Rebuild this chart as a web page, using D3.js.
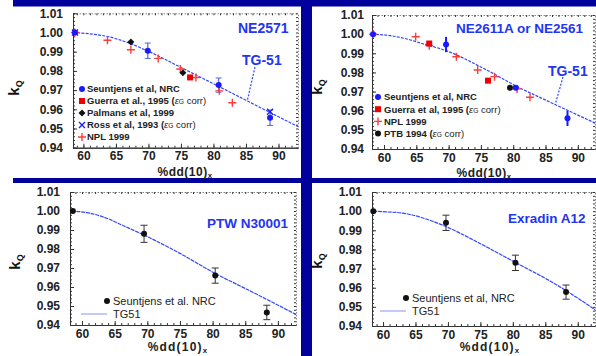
<!DOCTYPE html>
<html>
<head>
<meta charset="utf-8">
<script src="https://cdn.jsdelivr.net/npm/d3@7"></script>
<style>
  body { margin: 0; background: #fff; }
  svg { display: block; font-family: "Liberation Sans", Arial, sans-serif; }
</style>
</head>
<body>
<svg id="chart" width="596" height="356"></svg>
<script>
const xTicks = [60, 65, 70, 75, 80, 85, 90];
const yTicks = [0.94, 0.95, 0.96, 0.97, 0.98, 0.99, 1.00, 1.01];

// NE2571 ([%dd(10)x, kQ, error])
const ne2571Nrc = [[58.7, 1.000, 0], [69.9, 0.9905, 0.004], [80.8, 0.9726, 0.0037], [88.7, 0.9556, 0.004]];
const ne2571Guerra = [[76.4, 0.9766]];
const ne2571Palmans = [[67.3, 0.9951], [75.3, 0.979]];
const ne2571Ross = [[58.7, 1.000], [88.7, 0.9587]];
const ne2571Npl = [[58.7, 1.000], [63.7, 0.996], [67.3, 0.991], [71.5, 0.9865], [74.9, 0.981], [77.3, 0.9766], [80.9, 0.9696], [82.9, 0.9634]];
const ne2571Tg51 = [[58.4, 1.000], [61, 0.9993], [64, 0.9977], [67, 0.9945], [70, 0.9902], [75, 0.9818], [80, 0.9733], [85, 0.9647], [90, 0.9561], [93, 0.951]];

// NE2611A or NE2561
const ne2611Nrc = [[58.3, 1.000, 0], [69.6, 0.9946, 0.004], [80.4, 0.972, 0.0012], [88.4, 0.956, 0.004]];
const ne2611Guerra = [[67.0, 0.9951], [76.1, 0.9757]];
const ne2611Npl = [[58.3, 1.000], [64.9, 0.9986], [67.0, 0.994], [71.2, 0.9882], [74.5, 0.9813], [77.1, 0.9778], [80.6, 0.9714], [82.6, 0.967]];
const ne2611Ptb = [[79.5, 0.972]];
const ne2611Tg51 = [[58.1, 1.000], [61, 0.9992], [63.4, 0.9976], [66, 0.995], [69.5, 0.9915], [76.2, 0.9807], [80.6, 0.9726], [85.5, 0.9648], [92.7, 0.9535]];

// PTW N30001
const ptwNrc = [[58.6, 1.000, 0], [69.5, 0.988, 0.0045], [80.4, 0.966, 0.004], [88.3, 0.9466, 0.0038]];
const ptwTg51 = [[58.4, 1.000], [61, 0.999], [63.8, 0.9962], [66, 0.9928], [69.4, 0.9875], [75, 0.9777], [80.2, 0.9675], [86, 0.9575], [92.8, 0.9455]];

// Exradin A12
const a12Nrc = [[58.5, 1.000, 0], [69.7, 0.9939, 0.004], [80.4, 0.973, 0.004], [88.2, 0.9577, 0.0037]];
const a12Tg51 = [[58.5, 1.000], [60.5, 0.9996], [63, 0.999], [67, 0.9955], [70.7, 0.9904], [75, 0.983], [80.5, 0.973], [86, 0.963], [92.7, 0.9485]];

const navy = '#00009c';
const blue = '#1a1aff';
const titleBlue = '#2236f0';
const red = '#ee0000';
const pink = '#ff3b3b';

const svg = d3.select('#chart');

// background bands
svg.append('rect').attr('x', 13).attr('y', 0).attr('width', 583).attr('height', 6.5).attr('fill', navy);
svg.append('rect').attr('x', 301).attr('y', 0).attr('width', 11).attr('height', 356).attr('fill', navy);
svg.append('rect').attr('x', 13).attr('y', 178).attr('width', 583).attr('height', 5).attr('fill', navy);

function marker(g, type, cx, cy) {
  if (type === 'circleBlue' || type === 'circleBlack') {
    g.append('circle').attr('cx', cx).attr('cy', cy).attr('r', 3)
      .attr('fill', type === 'circleBlue' ? blue : '#111');
  } else if (type === 'square') {
    g.append('rect').attr('x', cx - 3).attr('y', cy - 3).attr('width', 6).attr('height', 6).attr('fill', red);
  } else if (type === 'diamond') {
    g.append('path').attr('d', `M${cx},${cy - 3.5}L${cx + 3.5},${cy}L${cx},${cy + 3.5}L${cx - 3.5},${cy}Z`).attr('fill', '#111');
  } else if (type === 'cross') {
    g.append('path').attr('d', `M${cx - 3},${cy - 3}L${cx + 3},${cy + 3}M${cx - 3},${cy + 3}L${cx + 3},${cy - 3}`)
      .attr('stroke', blue).attr('stroke-width', 1.3);
  } else if (type === 'plus') {
    g.append('path').attr('d', `M${cx - 4},${cy}L${cx + 4},${cy}M${cx},${cy - 4}L${cx},${cy + 4}`)
      .attr('stroke', pink).attr('stroke-width', 1.4);
  }
}

function drawPanel(p) {
  const x = d3.scaleLinear().domain(p.xDomain).range([p.left, p.right]);
  const y = d3.scaleLinear().domain([0.94, 1.01]).range([p.bottom, p.top]);
  const g = svg.append('g');
  const tf = 'bold 12px "Liberation Sans", Arial, sans-serif';

  // minor ticks
  const xMinor = d3.range(Math.ceil(p.xDomain[0]), p.xDomain[1], 1);
  const yMinor = d3.range(0.94, 1.0101, 0.002);
  [['axisBottom', p.bottom], ['axisTop', p.top]].forEach(([fn, pos]) => {
    const ax = g.append('g').attr('transform', `translate(0,${pos})`)
      .call(d3[fn](x).tickValues(xMinor).tickSize(-2).tickSizeOuter(0).tickFormat(''));
    ax.select('.domain').attr('stroke', fn === 'axisTop' ? '#888' : '#333')
      .attr('stroke-dasharray', fn === 'axisTop' ? '1.5,1.5' : null);
    ax.selectAll('.tick line').attr('stroke', '#333');
  });
  [['axisLeft', p.left], ['axisRight', p.right]].forEach(([fn, pos]) => {
    const ax = g.append('g').attr('transform', `translate(${pos},0)`)
      .call(d3[fn](y).tickValues(yMinor).tickSize(-2).tickSizeOuter(0).tickFormat(''));
    ax.select('.domain').attr('stroke', fn === 'axisRight' ? '#888' : '#333')
      .attr('stroke-dasharray', fn === 'axisRight' ? '1.5,1.5' : null);
    ax.selectAll('.tick line').attr('stroke', '#333');
  });

  // major ticks + labels
  const xa = g.append('g').attr('transform', `translate(0,${p.bottom})`)
    .call(d3.axisBottom(x).tickValues(xTicks).tickSize(-4).tickSizeOuter(0).tickPadding(p.xPad));
  const ya = g.append('g').attr('transform', `translate(${p.left},0)`)
    .call(d3.axisLeft(y).tickValues(yTicks).tickSize(-4).tickSizeOuter(0).tickPadding(p.yPad).tickFormat(d3.format('.2f')));
  [xa, ya].forEach(a => {
    a.select('.domain').attr('stroke', '#333');
    a.selectAll('.tick line').attr('stroke', '#333');
    a.selectAll('text').attr('fill', '#222').style('font', tf);
  });

  // axis titles
  const xl = g.append('text').attr('x', p.xLabel[0]).attr('y', p.xLabel[1]).attr('text-anchor', 'middle')
    .attr('fill', '#222').style('font', `bold ${p.xLabelSize}px "Liberation Sans", Arial, sans-serif`)
    .style('letter-spacing', p.xLabelSpacing + 'px');
  xl.append('tspan').text('%dd(10)');
  xl.append('tspan').attr('font-size', '65%').attr('dy', 2).text('x');

  const yl = g.append('text').attr('transform', `translate(${p.yLabel[0]},${p.yLabel[1]}) rotate(-90)`)
    .attr('text-anchor', 'middle').attr('fill', '#111').style('font', 'bold 15px "Liberation Sans", Arial, sans-serif');
  yl.append('tspan').text('k');
  yl.append('tspan').attr('font-size', '60%').attr('dy', 3).text('Q');

  // title
  g.append('text').attr('x', p.title[1]).attr('y', p.title[2]).attr('fill', titleBlue)
    .style('font', `bold ${p.title[3]}px "Liberation Sans", Arial, sans-serif`).text(p.title[0]);

  // TG-51 curve
  const line = d3.line().x(d => x(d[0])).y(d => y(d[1])).curve(d3.curveMonotoneX);
  g.append('path').datum(p.tg51).attr('d', line).attr('fill', 'none')
    .attr('stroke', '#3048ff').attr('stroke-width', 1.2).attr('stroke-dasharray', p.tgDash);

  // TG-51 callout
  if (p.note) {
    const n = p.note;
    const ex = x(n.at);
    const ey = y(d3.scaleLinear().domain(p.tg51.map(d => d[0])).range(p.tg51.map(d => d[1]))(n.at));
    g.append('line').attr('x1', n.from[0]).attr('y1', n.from[1]).attr('x2', ex).attr('y2', ey)
      .attr('stroke', '#3048ff').attr('stroke-width', 1.2).attr('stroke-dasharray', '2,1.5');
    g.append('text').attr('x', n.text[0]).attr('y', n.text[1]).attr('fill', titleBlue)
      .style('font', 'bold 14px "Liberation Sans", Arial, sans-serif').text('TG-51');
  }

  // error bars
  p.errors.forEach(d => {
    if (!d[2]) return;
    const cx = x(d[0]);
    g.append('line').attr('x1', cx).attr('x2', cx).attr('y1', y(d[1] + d[2])).attr('y2', y(d[1] - d[2]))
      .attr('stroke', p.errColor).attr('stroke-width', p.errWidth);
    if (p.errCap) {
      [d[1] + d[2], d[1] - d[2]].forEach(v => {
        g.append('line').attr('x1', cx - p.errCap).attr('x2', cx + p.errCap).attr('y1', y(v)).attr('y2', y(v))
          .attr('stroke', p.errColor).attr('stroke-width', 1);
      });
    }
  });

  // markers
  p.series.forEach(s => s.data.forEach(d => marker(g, s.type, x(d[0]), y(d[1]))));

  // legend
  p.legend.forEach((l, i) => {
    const ly = p.legendPos[1] + i * p.legendStep;
    if (l.type === 'line') {
      g.append('line').attr('x1', p.legendPos[0] - 26).attr('x2', p.legendPos[0]).attr('y1', ly).attr('y2', ly)
        .attr('stroke', '#9aa6ff').attr('stroke-width', 1.2);
    } else {
      marker(g, l.type, p.legendPos[0], ly);
    }
    const t = g.append('text').attr('x', p.legendPos[0] + p.legendGap).attr('y', ly + p.legendSize * 0.36)
      .attr('fill', '#222').style('font', `${p.legendWeight} ${p.legendSize}px "Liberation Sans", Arial, sans-serif`);
    t.append('tspan').text(l.label);
    if (l.eps) {
      t.append('tspan').text(' (');
      t.append('tspan').attr('font-style', 'italic').attr('font-weight', 'normal').text('ε');
      t.append('tspan').attr('font-size', '70%').attr('font-weight', 'normal').text('G');
      t.append('tspan').attr('font-weight', 'normal').text(' corr)');
    }
  });
}

drawPanel({
  left: 73, right: 298, top: 13.3, bottom: 147.7, xDomain: [58.4, 93.0], xPad: 4, yPad: 10,
  xLabel: [185, 176], xLabelSize: 12, xLabelSpacing: 0.5, yLabel: [19, 88],
  title: ['NE2571', 238, 33, 14], tg51: ne2571Tg51, tgDash: '3,1.2',
  note: { at: 85.2, from: [255, 67], text: [242, 65] },
  errors: ne2571Nrc, errColor: '#5566dd', errWidth: 1.2, errCap: 3,
  series: [
    { type: 'plus', data: ne2571Npl },
    { type: 'square', data: ne2571Guerra },
    { type: 'diamond', data: ne2571Palmans },
    { type: 'circleBlue', data: ne2571Nrc },
    { type: 'cross', data: ne2571Ross }
  ],
  legendPos: [82, 89], legendStep: 12, legendGap: 5, legendSize: 9.5, legendWeight: 'bold',
  legend: [
    { type: 'circleBlue', label: 'Seuntjens et al, NRC' },
    { type: 'square', label: 'Guerra et al., 1995', eps: true },
    { type: 'diamond', label: 'Palmans et al, 1999' },
    { type: 'cross', label: 'Ross et al, 1993', eps: true },
    { type: 'plus', label: 'NPL 1999' }
  ]
});

drawPanel({
  left: 372, right: 595, top: 15, bottom: 149, xDomain: [58.14, 92.66], xPad: 4, yPad: 8,
  xLabel: [484, 176.5], xLabelSize: 12, xLabelSpacing: 0.5, yLabel: [322, 87],
  title: ['NE2611A or NE2561', 456, 33, 13.5], tg51: ne2611Tg51, tgDash: '3,1.2',
  note: { at: 86.5, from: [563, 77], text: [548, 76] },
  errors: ne2611Nrc, errColor: blue, errWidth: 2, errCap: 0,
  series: [
    { type: 'plus', data: ne2611Npl },
    { type: 'square', data: ne2611Guerra },
    { type: 'circleBlack', data: ne2611Ptb },
    { type: 'circleBlue', data: ne2611Nrc }
  ],
  legendPos: [378, 97], legendStep: 12.2, legendGap: 6, legendSize: 9.5, legendWeight: 'bold',
  legend: [
    { type: 'circleBlue', label: 'Seuntjens et al, NRC' },
    { type: 'square', label: 'Guerra et al, 1995', eps: true },
    { type: 'plus', label: 'NPL 1999' },
    { type: 'circleBlack', label: 'PTB 1994', eps: true }
  ]
});

drawPanel({
  left: 70, right: 296, top: 192, bottom: 325, xDomain: [58.16, 92.77], xPad: 4, yPad: 10,
  xLabel: [178, 351], xLabelSize: 12, xLabelSpacing: 1.2, yLabel: [20, 262],
  title: ['PTW N30001', 207, 228, 13.5], tg51: ptwTg51, tgDash: '4,0.8',
  note: null,
  errors: ptwNrc, errColor: '#333', errWidth: 1, errCap: 3.5,
  series: [{ type: 'circleBlack', data: ptwNrc }],
  legendPos: [107, 301], legendStep: 13, legendGap: 6, legendSize: 11, legendWeight: 'normal',
  legend: [
    { type: 'circleBlack', label: 'Seuntjens et al. NRC' },
    { type: 'line', label: 'TG51' }
  ]
});

drawPanel({
  left: 372, right: 595, top: 192, bottom: 326, xDomain: [58.3, 92.66], xPad: 4, yPad: 10,
  xLabel: [490, 351], xLabelSize: 12, xLabelSpacing: 1.2, yLabel: [322, 261],
  title: ['Exradin A12', 508, 223, 13.5], tg51: a12Tg51, tgDash: '4,0.8',
  note: null,
  errors: a12Nrc, errColor: '#333', errWidth: 1, errCap: 3.5,
  series: [{ type: 'circleBlack', data: a12Nrc }],
  legendPos: [406, 298], legendStep: 13, legendGap: 6, legendSize: 11, legendWeight: 'normal',
  legend: [
    { type: 'circleBlack', label: 'Seuntjens et al, NRC' },
    { type: 'line', label: 'TG51' }
  ]
});
</script>
</body>
</html>
